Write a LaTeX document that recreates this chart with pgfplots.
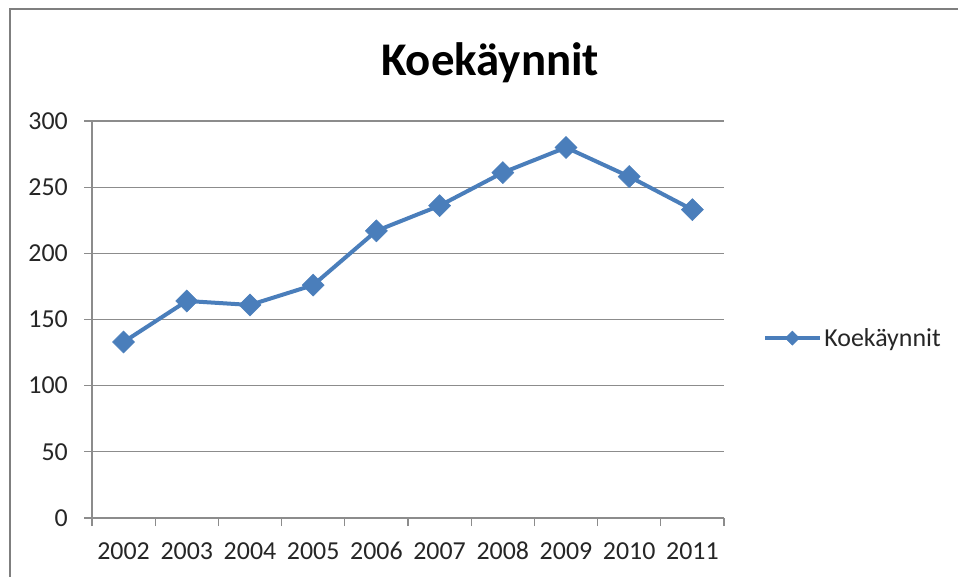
\documentclass[border=0pt]{standalone}
\usepackage{pgfplots}
\pgfplotsset{compat=1.18}
\usepackage{fontspec}
\setmainfont{Carlito}
\definecolor{serblue}{HTML}{4A7EBB}
\definecolor{gridgray}{HTML}{8C8C8C}
\definecolor{framegray}{HTML}{7F7F7F}
\definecolor{txt}{HTML}{262626}
\begin{document}
\begin{tikzpicture}
\useasboundingbox (0bp,0bp) rectangle (958bp,-577bp);
\fill[white] (0bp,0bp) rectangle (958bp,-577bp);
\draw[framegray, line width=1.6bp] (10bp,-577bp) -- (10bp,-9bp) -- (958bp,-9bp);
\node[anchor=base, text=black] at (490bp,-75bp) {\fontsize{47}{52}\selectfont\bfseries Koekäynnit};
\begin{axis}[
  at={(92bp,-518bp)}, anchor=south west,
  scale only axis, width=632bp, height=397bp,
  xmin=0.5, xmax=10.5, ymin=0, ymax=300,
  xtick={0.5,1.5,...,10.5},
  x tick label as interval,
  xticklabels={2002,2003,2004,2005,2006,2007,2008,2009,2010,2011},
  ytick={0,50,...,300},
  ymajorgrids,
  grid style={gridgray, line width=1.3bp},
  axis lines=left,
  axis line style={-, gridgray, line width=1.3bp},
  tick style={gridgray, line width=1.3bp},
  tick align=outside,
  major tick length=8bp,
  /pgf/number format/assume math mode=true,
  ticklabel style={font=\fontsize{26}{30}\selectfont, text=txt},
  yticklabel style={inner sep=0pt, xshift=-16bp},
  xticklabel style={inner sep=0pt, yshift=-16bp},
  legend style={draw=none, fill=none, at={(1.062,0.453)}, anchor=west, inner sep=0pt,
    font=\fontsize{26}{30}\selectfont, text=txt},
  legend cell align=left,
  legend image code/.code={\draw[#1, mark size=5bp, mark repeat=2, mark phase=2] plot coordinates {(0bp,0bp) (27bp,0bp) (55bp,0bp)};},
]
\addplot[serblue, line width=4bp, mark=square*, mark size=7.8bp, mark options={rotate=45, solid, fill=serblue, draw=serblue, line width=0.5bp}]
  coordinates {(1,133) (2,164) (3,161) (4,176) (5,217) (6,236) (7,261) (8,280) (9,258) (10,233)};
\addlegendentry{Koekäynnit}
\end{axis}
\end{tikzpicture}
\end{document}
